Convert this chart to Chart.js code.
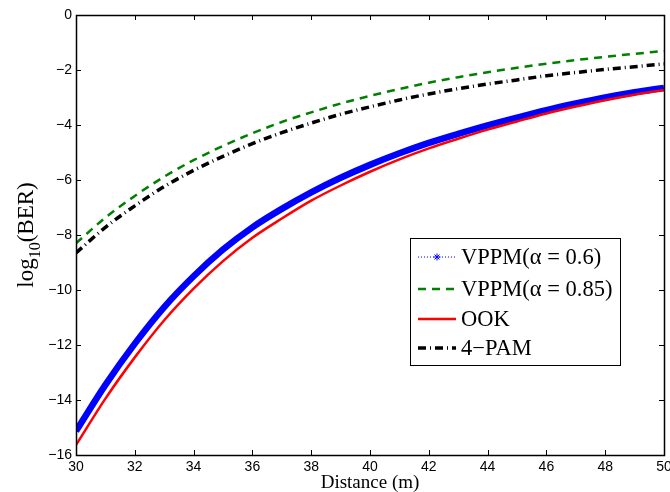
<!DOCTYPE html>
<html><head><meta charset="utf-8">
<script src="https://cdn.jsdelivr.net/npm/chart.js@4.4.1/dist/chart.umd.min.js"></script>
<style>html,body{margin:0;padding:0;background:#fff;}#wrap{width:670px;height:492px;}</style>
</head><body><div id="wrap"><canvas id="c" width="670" height="492"></canvas></div>
<script>
const distances = [30,31,32,33,34,35,36,37,38,39,40,41,42,43,44,45,46,47,48,49,50];
const vppm06  = [-15.13,-13.45,-11.95,-10.62,-9.5,-8.53,-7.72,-7.05,-6.45,-5.92,-5.45,-5.03,-4.65,-4.32,-4.01,-3.73,-3.46,-3.22,-3.0,-2.81,-2.65];
const vppm085 = [-8.3,-7.37,-6.58,-5.88,-5.28,-4.76,-4.3,-3.89,-3.54,-3.22,-2.94,-2.69,-2.46,-2.26,-2.08,-1.92,-1.77,-1.64,-1.52,-1.41,-1.31];
const ook     = [-15.64,-13.95,-12.45,-11.1,-9.95,-8.95,-8.1,-7.4,-6.75,-6.2,-5.7,-5.25,-4.85,-4.5,-4.17,-3.87,-3.58,-3.33,-3.1,-2.9,-2.73];
const pam4    = [-8.65,-7.72,-6.94,-6.24,-5.65,-5.14,-4.68,-4.28,-3.93,-3.61,-3.34,-3.09,-2.87,-2.68,-2.51,-2.36,-2.21,-2.09,-1.98,-1.88,-1.78];
const seriesLabels = ['VPPM(\u03b1 = 0.6)','VPPM(\u03b1 = 0.85)','OOK','4\u2212PAM'];
const xTitle = 'Distance (m)';
const yTitleMain = 'log', yTitleSub = '10', yTitleTail = '(BER)';

const pts = arr => arr.map((v,i)=>({x:distances[i], y:v}));
const serif = '"Liberation Serif", "Times New Roman", serif';
const sans = '"Liberation Sans", Arial, Helvetica, sans-serif';

const framePlugin = {
  id:'frame',
  afterDatasetsDraw(chart){
    const ctx = chart.ctx, a = chart.chartArea;
    const xs = chart.scales.x, ys = chart.scales.y;
    ctx.save();
    ctx.strokeStyle = '#000'; ctx.lineWidth = 1;
    ctx.beginPath();
    xs.ticks.forEach(t=>{
      const px = Math.round(xs.getPixelForValue(t.value))+0.5;
      ctx.moveTo(px,a.bottom); ctx.lineTo(px,a.bottom-5);
      ctx.moveTo(px,a.top); ctx.lineTo(px,a.top+5);
    });
    ys.ticks.forEach(t=>{
      const py = Math.round(ys.getPixelForValue(t.value))+0.5;
      ctx.moveTo(a.left,py); ctx.lineTo(a.left+5,py);
      ctx.moveTo(a.right,py); ctx.lineTo(a.right-5,py);
    });
    ctx.stroke();
    ctx.lineWidth = 1.5;
    ctx.strokeRect(Math.round(a.left)+0.5, Math.round(a.top)+0.5, Math.round(a.right-a.left), Math.round(a.bottom-a.top));
    // axis titles
    ctx.fillStyle = '#000';
    ctx.font = '19px ' + serif;
    ctx.textAlign = 'center'; ctx.textBaseline = 'alphabetic';
    ctx.fillText(xTitle, (a.left+a.right)/2, 488);
    ctx.translate(33, (a.top+a.bottom)/2);
    ctx.rotate(-Math.PI/2);
    const fMain = '23px ' + serif, fSub = '16px ' + serif;
    ctx.font = fMain; const w1 = ctx.measureText(yTitleMain).width, w3 = ctx.measureText(yTitleTail).width;
    ctx.font = fSub; const w2 = ctx.measureText(yTitleSub).width;
    let x0 = -(w1+w2+w3)/2;
    ctx.textAlign = 'left';
    ctx.font = fMain; ctx.fillText(yTitleMain, x0, 0);
    ctx.font = fSub; ctx.fillText(yTitleSub, x0+w1, 7);
    ctx.font = fMain; ctx.fillText(yTitleTail, x0+w1+w2, 0);
    ctx.restore();

    // legend
    ctx.save();
    const L = 410, T = 238, R = 620, B = 365;
    ctx.fillStyle = '#fff'; ctx.fillRect(L,T,R-L,B-T);
    ctx.strokeStyle = '#000'; ctx.lineWidth = 1; ctx.setLineDash([]);
    ctx.strokeRect(L+0.5,T+0.5,R-L,B-T);
    const rows = [257,289,319,348];
    chart.data.datasets.forEach((ds,i)=>{
      const y = rows[i];
      ctx.save();
      ctx.strokeStyle = ds.legendColor;
      ctx.lineWidth = ds.legendWidth;
      ctx.setLineDash(ds.legendDash);
      ctx.beginPath(); ctx.moveTo(418,y); ctx.lineTo(456,y); ctx.stroke();
      if (ds.legendStar){
        ctx.setLineDash([]);
        Chart.helpers.drawPoint(ctx,{pointStyle:'star',radius:3.5,borderWidth:1.5},437,y);
      }
      ctx.restore();
      ctx.fillStyle = '#000';
      ctx.font = '22.5px ' + serif; ctx.textAlign='left'; ctx.textBaseline='middle';
      ctx.fillText(ds.label, 461, y+1);
    });
    ctx.restore();
  }
};

new Chart(document.getElementById('c'), {
  type:'line',
  data:{ datasets:[
    {label:seriesLabels[0], data:pts(vppm06), borderColor:'#0000ff', backgroundColor:'#0000ff', borderWidth:6.5,
     pointRadius:0, order:4, cubicInterpolationMode:'monotone',
     legendColor:'#0000ff', legendWidth:1, legendDash:[1,2], legendStar:true},
    {label:seriesLabels[1], data:pts(vppm085), borderColor:'#008000', borderWidth:2.5, borderDash:[8,6],
     pointRadius:0, order:3, cubicInterpolationMode:'monotone',
     legendColor:'#008000', legendWidth:2.5, legendDash:[8,6]},
    {label:seriesLabels[2], data:pts(ook), borderColor:'#ff0000', borderWidth:2.5,
     pointRadius:0, order:2, cubicInterpolationMode:'monotone',
     legendColor:'#ff0000', legendWidth:2.5, legendDash:[]},
    {label:seriesLabels[3], data:pts(pam4), borderColor:'#000000', borderWidth:3.5, borderDash:[8,4,1,4],
     pointRadius:0, order:1, cubicInterpolationMode:'monotone',
     legendColor:'#000000', legendWidth:3.5, legendDash:[8,4,1,4]}
  ]},
  options:{
    responsive:false, animation:false, devicePixelRatio:1,
    layout:{padding:{left:0, top:15, right:6, bottom:0}},
    plugins:{legend:{display:false}, tooltip:{enabled:false}},
    scales:{
      x:{type:'linear', min:30, max:50,
         ticks:{stepSize:2, color:'#000', font:{family:sans, size:14}, padding:4, maxRotation:0,
                callback:v=>String(v)},
         grid:{display:false, drawTicks:false, tickLength:0}, border:{display:false},
         afterFit:s=>{ s.height = 37; s.paddingLeft = 0; s.paddingRight = 0; }},
      y:{type:'linear', min:-16, max:0,
         ticks:{stepSize:2, color:'#000', font:{family:sans, size:14}, padding:4,
                callback:v=> v<0 ? '\u2212'+Math.abs(v) : String(v)},
         grid:{display:false, drawTicks:false, tickLength:0}, border:{display:false},
         afterFit:s=>{ s.width = 76; s.paddingTop = 0; s.paddingBottom = 0; }}
    }
  },
  plugins:[framePlugin]
});
</script></body></html>
